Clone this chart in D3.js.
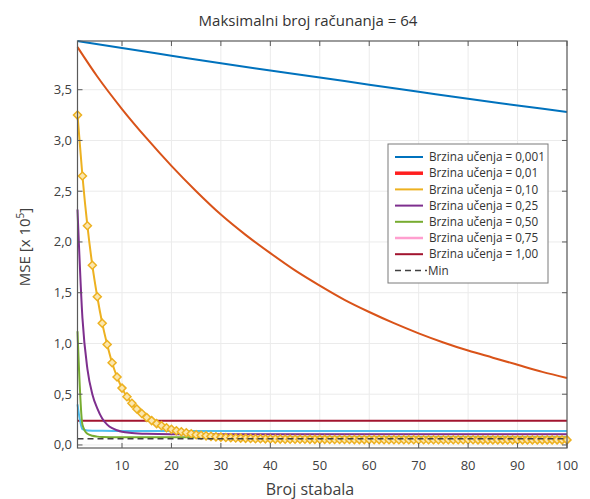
<!DOCTYPE html>
<html><head><meta charset="utf-8">
<script src="https://cdn.jsdelivr.net/npm/d3@7"></script>
<style>body{margin:0;background:#fff}svg{display:block}text{font-family:"Open Sans","Noto Sans",sans-serif}</style>
</head><body>
<svg id="c" width="590" height="499"></svg>
<script>
// ---- data (MSE in units of 10^5) ----
const title = "Maksimalni broj računanja = 64";
const xLabel = "Broj stabala";
const xTicks = [10,20,30,40,50,60,70,80,90,100];
const yTicks = [0,0.5,1,1.5,2,2.5,3,3.5];
const yTickLabels = ["0,0","0,5","1,0","1,5","2,0","2,5","3,0","3,5"];
const legendLabels = ["Brzina učenja = 0,001","Brzina učenja = 0,01","Brzina učenja = 0,10","Brzina učenja = 0,25","Brzina učenja = 0,50","Brzina učenja = 0,75","Brzina učenja = 1,00","Min"];

const lr0001T = [1,10,20,30,40,50,60,70,80,90,100];
const lr0001V = [3.98,3.91,3.835,3.76,3.69,3.62,3.55,3.48,3.41,3.345,3.28];

const lr001T = [1,5,10,15,20,25,30,35,40,45,50,55,60,65,70,75,80,85,90,95,100];
const lr001V = [3.92,3.63,3.31,3.02,2.75,2.50,2.27,2.07,1.89,1.72,1.57,1.43,1.31,1.20,1.10,1.01,0.93,0.86,0.79,0.72,0.66];

const lr010V = [3.25,2.65,2.16,1.77,1.46,1.20,0.99,0.81,0.67,0.56,
  0.475,0.41,0.355,0.31,0.27,0.24,0.21,0.19,0.17,0.155,
  0.14,0.13,0.12,0.11,0.10,0.095,0.09,0.085,0.08,0.077,
  0.074,0.071,0.069,0.067,0.065,0.063,0.062,0.061,0.060,0.059,
  0.058,0.058,0.057,0.057,0.056,0.056,0.056,0.055,0.055,0.055,
  0.055,0.054,0.054,0.054,0.054,0.054,0.053,0.053,0.053,0.053,
  0.053,0.053,0.052,0.052,0.052,0.052,0.052,0.052,0.052,0.052,
  0.051,0.051,0.051,0.051,0.051,0.051,0.051,0.051,0.051,0.051,
  0.051,0.050,0.050,0.050,0.050,0.050,0.050,0.050,0.050,0.050,
  0.050,0.050,0.050,0.050,0.050,0.050,0.050,0.050,0.050,0.050];

const lr025T = [1,2,3,4,5,6,7,8,9,10,12,15,20,30,50,100];
const lr025V = [2.32,1.25,0.75,0.50,0.36,0.26,0.20,0.165,0.145,0.13,0.118,0.11,0.106,0.105,0.105,0.105];

const lr050T = [1,2,3,4,5,6,8,10,20,50,100];
const lr050V = [1.12,0.20,0.11,0.09,0.082,0.078,0.076,0.075,0.075,0.075,0.075];

const lr075T = [1,2,3,4,6,10,20,50,100];
const lr075V = [0.40,0.155,0.142,0.14,0.139,0.138,0.138,0.138,0.138];

const lr100T = [1,100];
const lr100V = [0.238,0.238];

const minT = [1,100];
const minV = [0.062,0.062];

// ---- layout ----
const svg = d3.select("#c");
const L=77.5, R=567, T=41, B=448;
const x = d3.scaleLinear().domain([1,100]).range([L,R]);
const y = d3.scaleLinear().domain([-0.03,3.98]).range([B,T]);

// grid
const g = svg.append("g");
g.selectAll(".gx").data(xTicks).join("line")
  .attr("x1",d=>x(d)).attr("x2",d=>x(d)).attr("y1",T).attr("y2",B)
  .attr("stroke","#ebebeb").attr("stroke-width",1);
g.selectAll(".gy").data(yTicks).join("line")
  .attr("x1",L).attr("x2",R).attr("y1",d=>y(d)).attr("y2",d=>y(d))
  .attr("stroke","#ebebeb").attr("stroke-width",1);

const zip = (ts,vs)=>ts.map((t,i)=>[t,vs[i]]);
const line = d3.line().x(d=>x(d[0])).y(d=>y(d[1])).curve(d3.curveMonotoneX);
const plot = svg.append("g");
function drawLine(data,color,w,dash){
  plot.append("path").datum(data).attr("d",line).attr("fill","none")
    .attr("stroke",color).attr("stroke-width",w).attr("stroke-dasharray",dash||null);
}
drawLine(zip(lr0001T,lr0001V),"#0072BD",2);
drawLine(zip(lr001T,lr001V),"#D95319",2);
drawLine(zip(lr100T,lr100V),"#A2142F",2);
drawLine(zip(lr075T,lr075V),"#4DBEEE",2);
drawLine(zip(lr025T,lr025V),"#7E2F8E",2);
drawLine(zip(lr050T,lr050V),"#77AC30",2);
const yel = lr010V.map((v,i)=>[i+1,v]);
drawLine(yel,"#EDB120",2);
plot.selectAll(".mk").data(yel).join("path")
  .attr("d",d=>{const cx=x(d[0]),cy=y(d[1]),r=4;return `M${cx},${cy-r}L${cx+r},${cy}L${cx},${cy+r}L${cx-r},${cy}Z`;})
  .attr("fill","#fbe6ad").attr("stroke","#EDB120").attr("stroke-width",1.5);
drawLine(zip(minT,minV),"#404040",1.5,"6,4");

// axes box
const ax = svg.append("g");
ax.append("rect").attr("x",L).attr("y",T).attr("width",R-L).attr("height",B-T)
  .attr("fill","none").attr("stroke","#5a5a5a").attr("stroke-width",1.2);
const tl=5;
xTicks.forEach(t=>{
  ax.append("line").attr("x1",x(t)).attr("x2",x(t)).attr("y1",B).attr("y2",B-tl).attr("stroke","#5a5a5a");
  ax.append("line").attr("x1",x(t)).attr("x2",x(t)).attr("y1",T).attr("y2",T+tl).attr("stroke","#5a5a5a");
});
yTicks.forEach(t=>{
  ax.append("line").attr("x1",L).attr("x2",L+tl).attr("y1",y(t)).attr("y2",y(t)).attr("stroke","#5a5a5a");
  ax.append("line").attr("x1",R).attr("x2",R-tl).attr("y1",y(t)).attr("y2",y(t)).attr("stroke","#5a5a5a");
});
ax.selectAll(".xl").data(xTicks).join("text").attr("x",d=>x(d)).attr("y",470)
  .attr("text-anchor","middle").attr("font-size",13).attr("fill","#404040").text(d=>d);
ax.selectAll(".yl").data(yTicks).join("text").attr("x",72).attr("y",d=>y(d)+4.5)
  .attr("text-anchor","end").attr("font-size",13).attr("fill","#404040").text((d,i)=>yTickLabels[i]);

// title / labels
svg.append("text").attr("x",308).attr("y",26).attr("text-anchor","middle")
  .attr("font-size",15).attr("fill","#333").text(title);
svg.append("text").attr("x",310).attr("y",495).attr("text-anchor","middle")
  .attr("font-size",16).attr("fill","#404040").text(xLabel);
const yl = svg.append("text").attr("transform","translate(30,247) rotate(-90)")
  .attr("text-anchor","middle").attr("font-size",15).attr("fill","#404040");
yl.append("tspan").text("MSE [x 10");
yl.append("tspan").attr("font-size",10).attr("dy",-6).text("5");
yl.append("tspan").attr("dy",6).text("]");

// legend
const legColors = ["#0072BD","#FF1F1F","#EDB120","#7E2F8E","#77AC30","#FF9FCF","#A2142F","#404040"];
const legW = [2,3.5,2,2,2,2.5,2,1.5];
const lg = svg.append("g");
lg.append("rect").attr("x",388).attr("y",144).attr("width",160).attr("height",139)
  .attr("fill","#fff").attr("stroke","#7a7a7a").attr("stroke-width",1);
legendLabels.forEach((lab,i)=>{
  const cy = 157 + i*16.2;
  const isMin = i===legendLabels.length-1;
  lg.append("line").attr("x1",395).attr("x2",isMin?427:423).attr("y1",cy).attr("y2",cy)
    .attr("stroke",legColors[i]).attr("stroke-width",legW[i]).attr("stroke-dasharray",isMin?"6,4":null);
  lg.append("text").attr("x",isMin?428:429).attr("y",cy+4.2).attr("font-size",11.7).attr("fill","#333").text(lab);
});
</script>
</body></html>
